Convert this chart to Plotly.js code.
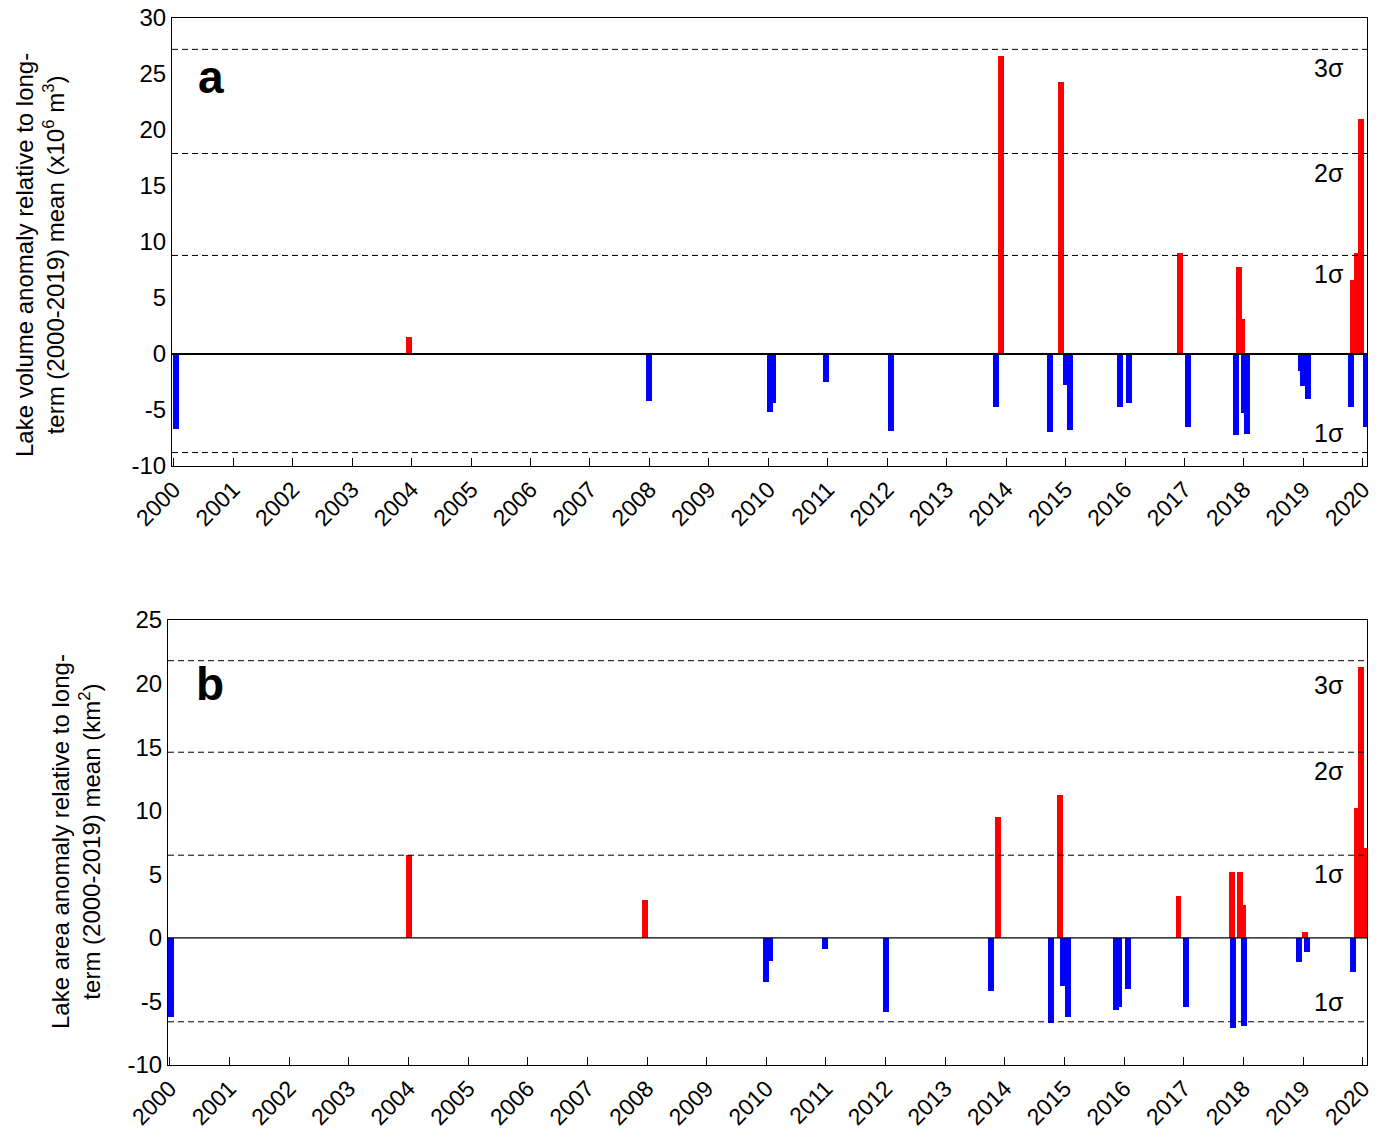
<!DOCTYPE html>
<html>
<head>
<meta charset="utf-8">
<script src="https://cdn.plot.ly/plotly-3.0.1.min.js"></script>
<style>body{margin:0;background:#fff}</style>
</head>
<body>
<div id="chart" style="width:1380px;height:1144px"></div>
<script>
// Panel a: lake volume anomaly (x10^6 m3), decimal year of each observation
var volYear = [2000.03, 2003.96, 2007.99, 2010.03, 2010.08, 2010.97, 2012.07, 2013.83, 2013.91,
  2014.73, 2014.92, 2015.0, 2015.07, 2015.92, 2016.06, 2016.93, 2017.06, 2017.87, 2017.92,
  2017.97, 2018.0, 2018.05, 2018.96, 2019.0, 2019.08, 2019.8, 2019.83, 2019.9, 2019.97, 2020.06];
var volAnom = [-6.7, 1.5, -4.2, -5.2, -4.4, -2.5, -6.9, -4.7, 26.6,
  -7.0, 24.3, -2.8, -6.8, -4.7, -4.4, 9.0, -6.5, -7.2, 7.8,
  3.1, -5.3, -7.1, -1.5, -2.9, -4.0, -4.7, 6.6, 9.0, 21.0, -6.5];
var volSigma = [27.2, 17.9, 8.8, -8.8];
var volSigmaLbl = ['3σ', '2σ', '1σ', '1σ'];
var volTicks = [-10, -5, 0, 5, 10, 15, 20, 25, 30];

// Panel b: lake area anomaly (km2)
var areaYear = [2000.02, 2004.01, 2007.97, 2010.0, 2010.07, 2010.99, 2012.01, 2013.77, 2013.89,
  2014.77, 2014.92, 2014.98, 2015.05, 2015.86, 2015.91, 2016.07, 2016.91, 2017.04,
  2017.81, 2017.83, 2017.94, 2017.99, 2018.0, 2018.93, 2019.03, 2019.06,
  2019.83, 2019.9, 2019.97, 2020.03];
var areaAnom = [-6.2, 6.5, 3.0, -3.5, -1.8, -0.9, -5.8, -4.2, 9.5,
  -6.7, 11.2, -3.8, -6.2, -5.7, -5.4, -4.0, 3.3, -5.4,
  5.2, -7.1, 5.2, 2.6, -6.9, -1.9, 0.5, -1.1,
  -2.7, 10.2, 21.3, 7.1];
var areaSigma = [21.8, 14.6, 6.5, -6.6];
var areaSigmaLbl = ['3σ', '2σ', '1σ', '1σ'];
var areaTicks = [-10, -5, 0, 5, 10, 15, 20, 25];

var years = [];
for (var y = 2000; y <= 2020; y++) years.push(y);

var FONT = 'Liberation Sans, Arial, sans-serif';

function bars(xs, ys, xa, ya) {
  return {
    type: 'bar', x: xs, y: ys, width: 0.1, xaxis: xa, yaxis: ya,
    marker: {color: ys.map(function (v) { return v >= 0 ? '#ff0000' : '#0000ff'; }), line: {width: 0}},
    showlegend: false, hoverinfo: 'x+y'
  };
}

var data = [bars(volYear, volAnom, 'x', 'y'), bars(areaYear, areaAnom, 'x2', 'y2')];

var shapes = [], annotations = [];
function addSigma(vals, lbls, xr, yr, zw, labelOffset) {
  vals.forEach(function (v, i) {
    shapes.push({type: 'line', xref: xr + ' domain', yref: yr, x0: 0, x1: 1, y0: v, y1: v,
      line: {color: '#000', width: 1, dash: '6px,4px'}});
    annotations.push({xref: xr + ' domain', yref: yr, x: 0.968, y: v, yshift: labelOffset[i],
      text: lbls[i], showarrow: false, xanchor: 'center', font: {family: FONT, size: 25, color: '#000'}});
  });
  shapes.push({type: 'line', xref: xr + ' domain', yref: yr, x0: 0, x1: 1, y0: 0, y1: 0,
    line: {color: '#000', width: zw}});
}
addSigma(volSigma, volSigmaLbl, 'x', 'y', 2, [-19, -19, -19, 20]);
addSigma(areaSigma, areaSigmaLbl, 'x2', 'y2', 1.2, [-24, -19, -19, 20]);

annotations.push({xref: 'x domain', yref: 'y domain', x: 0.02, y: 0.93, text: '<b>a</b>',
  showarrow: false, xanchor: 'left', font: {family: FONT, size: 46, color: '#000'}});
annotations.push({xref: 'x2 domain', yref: 'y2 domain', x: 0.022, y: 0.92, text: '<b>b</b>',
  showarrow: false, xanchor: 'left', font: {family: FONT, size: 46, color: '#000'}});

// y-axis titles as rotated annotations so their position can match
annotations.push({xref: 'paper', yref: 'paper', x: 40 / 1380, y: 1 - 255 / 1144, textangle: -90,
  xanchor: 'center', yanchor: 'middle',
  text: 'Lake volume anomaly relative to long-<br>term (2000-2019) mean (x10<sup>6</sup> m<sup>3</sup>)',
  showarrow: false, font: {family: FONT, size: 24, color: '#000'}});
annotations.push({xref: 'paper', yref: 'paper', x: 76 / 1380, y: 1 - 842 / 1144, textangle: -90,
  xanchor: 'center', yanchor: 'middle',
  text: 'Lake area anomaly relative to long-<br>term (2000-2019) mean (km<sup>2</sup>)',
  showarrow: false, font: {family: FONT, size: 24, color: '#000'}});

function xaxis(dom, anchor) {
  return {domain: dom, anchor: anchor, range: [1999.97, 2020.07], tickmode: 'array', tickvals: years,
    ticktext: years.map(String), tickangle: -45, ticks: 'inside', ticklen: 8, tickcolor: '#000',
    showline: true, linecolor: '#000', mirror: true, showgrid: false, zeroline: false,
    tickfont: {family: FONT, size: 23, color: '#000'}};
}
function yaxis(dom, anchor, range, ticks) {
  return {domain: dom, anchor: anchor, range: range, tickmode: 'array', tickvals: ticks,
    ticktext: ticks.map(String), ticks: '', showline: true,
    linecolor: '#000', mirror: true, showgrid: false, zeroline: false,
    tickfont: {family: FONT, size: 24, color: '#000'}};
}

var layout = {
  width: 1380, height: 1144, margin: {l: 0, r: 0, t: 0, b: 0},
  paper_bgcolor: '#fff', plot_bgcolor: '#fff', bargap: 0,
  xaxis: xaxis([172 / 1380, 1367 / 1380], 'y'),
  yaxis: yaxis([1 - 466 / 1144, 1 - 18 / 1144], 'x', [-10, 30], volTicks),
  xaxis2: xaxis([168 / 1380, 1367 / 1380], 'y2'),
  yaxis2: yaxis([1 - 1065 / 1144, 1 - 620 / 1144], 'x2', [-10, 25], areaTicks),
  shapes: shapes, annotations: annotations
};

Plotly.newPlot('chart', data, layout, {displayModeBar: false, staticPlot: true});
</script>
</body>
</html>
